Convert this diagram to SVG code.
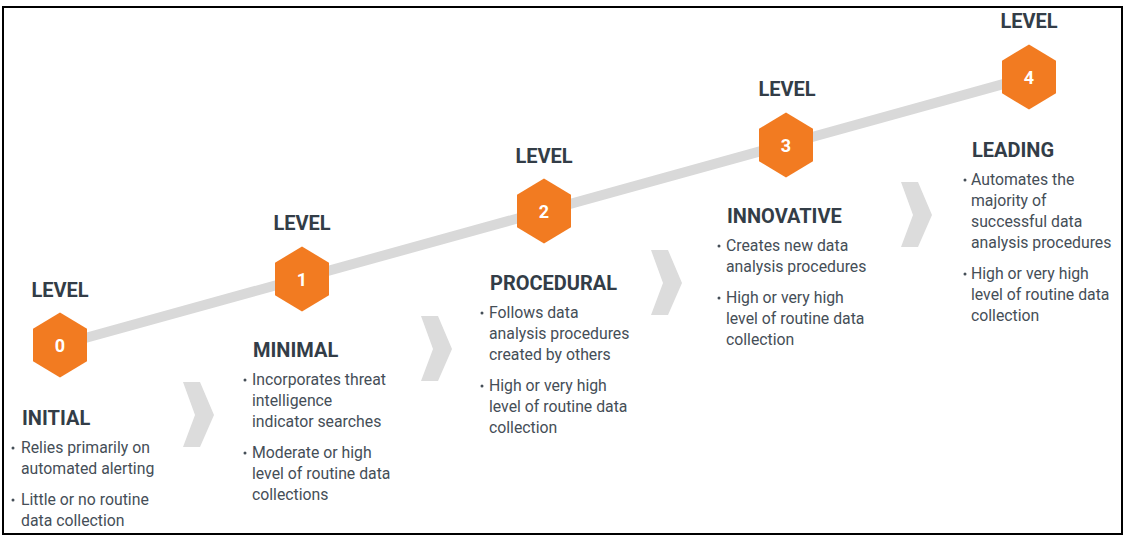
<svg xmlns="http://www.w3.org/2000/svg" width="1143" height="537" viewBox="0 0 1143 537">
<style>
.lvl{font-family:Roboto,"Liberation Sans",sans-serif;font-weight:700;font-size:20px;fill:#333d47;text-anchor:middle}
.num{font-family:Roboto,"Liberation Sans",sans-serif;font-weight:700;font-size:18px;fill:#ffffff;text-anchor:middle}
.ttl{font-family:Roboto,"Liberation Sans",sans-serif;font-weight:700;font-size:20px;fill:#333d47}
.txt{font-family:Roboto,"Liberation Sans",sans-serif;font-size:15.8px;fill:#454e57}
.dot{fill:#454e57}
.hex{fill:#f27b21}
.chev{fill:#dcdcdc}
</style>
<defs>
<polygon id="hexshape" class="hex" points="0,-32.5 27,-16.25 27,16.25 0,32.5 -27,16.25 -27,-16.25"/>
<path id="chevshape" class="chev" d="M0,0 L17,0 L31,33 L17,65 L0,65 L12,33 Z"/>
</defs>
<rect x="3" y="7" width="1119" height="527" fill="#ffffff" stroke="#000000" stroke-width="2"/>
<g id="connectors">
<line x1="60" y1="345" x2="1029" y2="77" stroke="#d9d9d9" stroke-width="10"/>
</g>
<g id="chevrons">
<use href="#chevshape" x="183" y="382"/>
<use href="#chevshape" x="421" y="316"/>
<use href="#chevshape" x="651" y="250"/>
<use href="#chevshape" x="901" y="182"/>
</g>
<g id="level0">
<text class="lvl" x="60" y="297">LEVEL</text>
<use href="#hexshape" x="60" y="345"/>
<text class="num" x="60" y="351.5">0</text>
<text class="ttl" x="22" y="425">INITIAL</text>
<circle class="dot" cx="13" cy="448" r="1.5"/>
<text class="txt" x="21" y="453">Relies primarily on</text>
<text class="txt" x="21" y="474">automated alerting</text>
<circle class="dot" cx="13" cy="500" r="1.5"/>
<text class="txt" x="21" y="505">Little or no routine</text>
<text class="txt" x="21" y="526">data collection</text>
</g>
<g id="level1">
<text class="lvl" x="302" y="230">LEVEL</text>
<use href="#hexshape" x="302" y="279"/>
<text class="num" x="302" y="285.5">1</text>
<text class="ttl" x="253" y="357">MINIMAL</text>
<circle class="dot" cx="245" cy="380" r="1.5"/>
<text class="txt" x="252" y="385">Incorporates threat</text>
<text class="txt" x="252" y="406">intelligence</text>
<text class="txt" x="252" y="427">indicator searches</text>
<circle class="dot" cx="245" cy="453" r="1.5"/>
<text class="txt" x="252" y="458">Moderate or high</text>
<text class="txt" x="252" y="479">level of routine data</text>
<text class="txt" x="252" y="500">collections</text>
</g>
<g id="level2">
<text class="lvl" x="544" y="163">LEVEL</text>
<use href="#hexshape" x="544" y="211"/>
<text class="num" x="544" y="217.5">2</text>
<text class="ttl" x="490" y="290">PROCEDURAL</text>
<circle class="dot" cx="482" cy="313" r="1.5"/>
<text class="txt" x="489" y="318">Follows data</text>
<text class="txt" x="489" y="339">analysis procedures</text>
<text class="txt" x="489" y="360">created by others</text>
<circle class="dot" cx="482" cy="386" r="1.5"/>
<text class="txt" x="489" y="391">High or very high</text>
<text class="txt" x="489" y="412">level of routine data</text>
<text class="txt" x="489" y="433">collection</text>
</g>
<g id="level3">
<text class="lvl" x="787" y="96">LEVEL</text>
<use href="#hexshape" x="786" y="145"/>
<text class="num" x="786" y="151.5">3</text>
<text class="ttl" x="727" y="223">INNOVATIVE</text>
<circle class="dot" cx="719" cy="246" r="1.5"/>
<text class="txt" x="726" y="251">Creates new data</text>
<text class="txt" x="726" y="272">analysis procedures</text>
<circle class="dot" cx="719" cy="298" r="1.5"/>
<text class="txt" x="726" y="303">High or very high</text>
<text class="txt" x="726" y="324">level of routine data</text>
<text class="txt" x="726" y="345">collection</text>
</g>
<g id="level4">
<text class="lvl" x="1029" y="28">LEVEL</text>
<use href="#hexshape" x="1029" y="77"/>
<text class="num" x="1029" y="83.5">4</text>
<text class="ttl" x="972" y="157">LEADING</text>
<circle class="dot" cx="965" cy="180" r="1.5"/>
<text class="txt" x="971" y="185">Automates the</text>
<text class="txt" x="971" y="206">majority of</text>
<text class="txt" x="971" y="227">successful data</text>
<text class="txt" x="971" y="248">analysis procedures</text>
<circle class="dot" cx="965" cy="274" r="1.5"/>
<text class="txt" x="971" y="279">High or very high</text>
<text class="txt" x="971" y="300">level of routine data</text>
<text class="txt" x="971" y="321">collection</text>
</g>
</svg>
